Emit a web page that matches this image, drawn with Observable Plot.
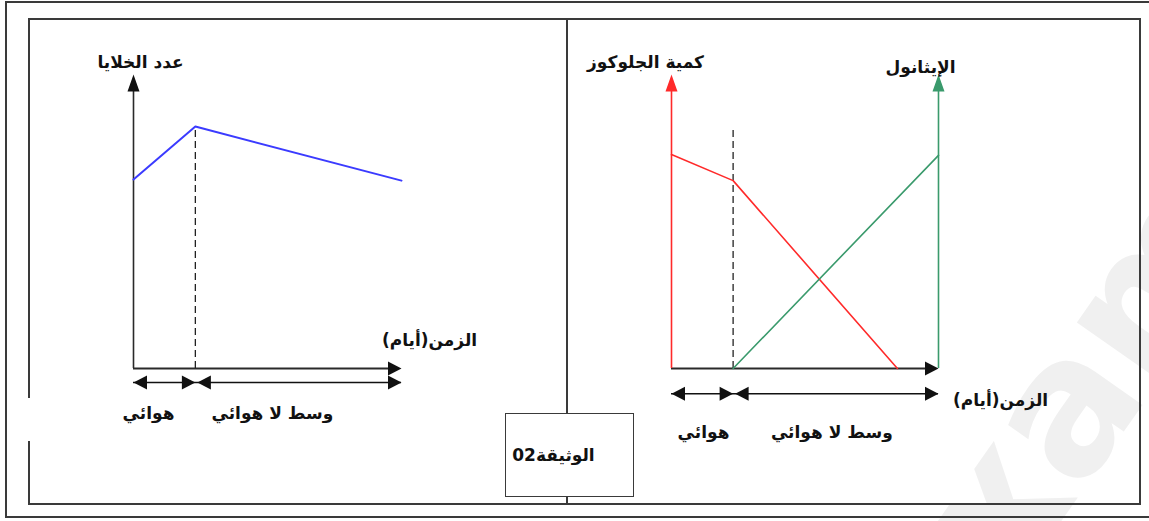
<!DOCTYPE html>
<html><head><meta charset="utf-8">
<script src="https://cdn.jsdelivr.net/npm/d3@7"></script>
<script src="https://cdn.jsdelivr.net/npm/@observablehq/plot@0.6"></script>
<style>
html,body{margin:0;padding:0;background:#fff;}
#page{position:relative;width:1149px;height:521px;overflow:hidden;font-family:"DejaVu Sans",sans-serif;}
#page svg{position:absolute;left:0;top:0;z-index:2;}
.ln{position:absolute;background:#3a3a3a;z-index:1;}
#doc{position:absolute;left:505px;top:413px;width:129px;height:84px;border:1.5px solid #3a3a3a;background:#fff;z-index:1;
  display:flex;align-items:center;justify-content:center;font-weight:bold;font-size:17px;color:#111;padding-right:32px;box-sizing:border-box;}
#wm{position:absolute;left:975px;top:505px;font-family:"DejaVu Sans",sans-serif;font-weight:bold;font-size:185px;color:#f0f0f0;
  transform-origin:0 100%;transform:rotate(-55deg);z-index:0;white-space:nowrap;}
</style></head><body><div id="page"></div>
<script>
// ---- data (time in days, amounts in arbitrary units 0–100) ----
const phaseLabels = ["هوائي", "وسط لا هوائي"];
const phaseBounds = [0, 3, 13];                 // aerobic 0–3, anaerobic 3–13
const timeLabel = "الزمن(أيام)";
const cellsLabel = "عدد الخلايا";
const glucoseLabel = "كمية الجلوكوز";
const ethanolLabel = "الإيثانول";
const docLabel = "الوثيقة02";

const cellTime = [0, 3, 13];
const cellCount = [67.5, 86.4, 67.1];
const glucoseTime = [0, 3, 11];
const glucoseAmount = [76.4, 67.1, 0];
const ethanolTime = [3, 13];
const ethanolAmount = [0, 76.1];

// ---- helpers ----
const headUp = {draw(c){c.moveTo(0,0);c.lineTo(-6,17);c.lineTo(6,17);c.closePath();}};
const headSide = {draw(c){c.moveTo(0,0);c.lineTo(-7,13.5);c.lineTo(7,13.5);c.closePath();}};
const T0 = phaseBounds[0], T1 = phaseBounds[1], T2 = phaseBounds[2];
const font = {fontFamily:"DejaVu Sans", fontWeight:"bold", fill:"#111", fontSize:17};
const toRows = (xs, ys) => xs.map((t,i)=>({t, v: ys[i]}));

function phaseRow(rowY, color) {
  return [
    Plot.ruleY([rowY], {x1:T0, x2:T2, stroke:color, strokeWidth:1.6}),
    Plot.dot([T0], {x:d=>d, y:()=>rowY, symbol:headSide, rotate:-90, fill:color, stroke:null}),
    Plot.dot([T1], {x:d=>d, y:()=>rowY, symbol:headSide, rotate:90, fill:color, stroke:null}),
    Plot.dot([T1], {x:d=>d, y:()=>rowY, dx:2, symbol:headSide, rotate:-90, fill:color, stroke:null}),
    Plot.dot([T2], {x:d=>d, y:()=>rowY, symbol:headSide, rotate:90, fill:color, stroke:null})
  ];
}
function panel(xRange, marks) {
  return Plot.plot({
    width:1149, height:521, margin:0,
    x:{domain:[T0,T2], range:xRange, axis:null},
    y:{domain:[0,100], range:[368,88], axis:null},
    style:{background:"transparent", overflow:"visible"},
    marks
  });
}

// ---- left panel: cell count ----
const left = panel([133, 401], [
  Plot.ruleX([T0], {y1:0, y2:99, stroke:"#2a2a2a", strokeWidth:1.6}),
  Plot.dot([T0], {x:d=>d, y:()=>105, symbol:headUp, fill:"#111", stroke:null}),
  Plot.ruleY([0], {x1:T0, x2:T2 - 0.4, stroke:"#2a2a2a", strokeWidth:1.8}),
  Plot.dot([T2], {x:d=>d, y:()=>0, symbol:headSide, rotate:90, fill:"#111", stroke:null}),
  Plot.ruleX([T1], {y1:0, y2:cellCount[1], stroke:"#222", strokeWidth:1.3, strokeDasharray:"7,4"}),
  Plot.line(toRows(cellTime, cellCount), {x:"t", y:"v", stroke:"#3b3bff", strokeWidth:2}),
  ...phaseRow(-5, "#111"),
  Plot.text([cellsLabel], {x:()=>T0, y:()=>109.3, dx:7, text:d=>d, ...font}),
  Plot.text([timeLabel], {x:()=>T2, y:()=>10, dx:28, text:d=>d, ...font}),
  Plot.text([phaseLabels[0]], {x:()=>T0, y:()=>-16, dx:15, text:d=>d, ...font}),
  Plot.text([phaseLabels[1]], {x:()=>(T1+T2)/2, y:()=>-16, dx:-26, text:d=>d, ...font})
]);

// ---- right panel: glucose & ethanol ----
const red = "#ff2a2a", green = "#3a9a6c";
const right = panel([671, 938], [
  Plot.ruleY([0], {x1:T0, x2:T2 - 0.5, stroke:"#2a2a2a", strokeWidth:1.8}),
  Plot.dot([T2], {x:d=>d, y:()=>0, symbol:headSide, rotate:90, fill:"#111", stroke:null}),
  Plot.ruleX([T0], {y1:0, y2:99, stroke:red, strokeWidth:1.6}),
  Plot.dot([T0], {x:d=>d, y:()=>105, symbol:headUp, fill:red, stroke:null}),
  Plot.ruleX([T2], {y1:0, y2:99, stroke:green, strokeWidth:1.6}),
  Plot.dot([T2], {x:d=>d, y:()=>105, symbol:headUp, fill:green, stroke:null}),
  Plot.ruleX([T1], {y1:0, y2:cellCount[1], stroke:"#222", strokeWidth:1.3, strokeDasharray:"7,4"}),
  Plot.line(toRows(glucoseTime, glucoseAmount), {x:"t", y:"v", stroke:red, strokeWidth:1.6}),
  Plot.line(toRows(ethanolTime, ethanolAmount), {x:"t", y:"v", stroke:green, strokeWidth:1.6}),
  ...phaseRow(-9, "#111"),
  Plot.text([glucoseLabel], {x:()=>T0, y:()=>109.3, dx:-26, text:d=>d, ...font}),
  Plot.text([ethanolLabel], {x:()=>T2, y:()=>107.5, dx:-18, text:d=>d, ...font}),
  Plot.text([timeLabel], {x:()=>T2, y:()=>-11.4, dx:62, text:d=>d, ...font}),
  Plot.text([phaseLabels[0]], {x:()=>T0, y:()=>-22.9, dx:32, text:d=>d, ...font}),
  Plot.text([phaseLabels[1]], {x:()=>(T1+T2)/2, y:()=>-22.9, dx:-4, text:d=>d, ...font})
]);

// ---- frame ----
const page = document.getElementById("page");
function line(x, y, w, h){const d=document.createElement("div");d.className="ln";Object.assign(d.style,{left:x+"px",top:y+"px",width:w+"px",height:h+"px"});page.appendChild(d);}
// outer frame
line(5,1,1144,1.5); line(5,1,1.5,517); line(5,516,1144,1.5);
// inner frame
line(28,18,1113,1.5); line(28,503,1113,1.5); line(1139,18,1.5,487);
line(28,18,1.5,380); line(28,441,1.5,63);
// divider
line(566,18,1.5,396); line(566,497,1.5,7);
const wm=document.createElement("div");wm.id="wm";wm.textContent="exams";page.appendChild(wm);
const doc=document.createElement("div");doc.id="doc";doc.textContent=docLabel;page.appendChild(doc);
page.appendChild(left);
page.appendChild(right);
</script></body></html>
